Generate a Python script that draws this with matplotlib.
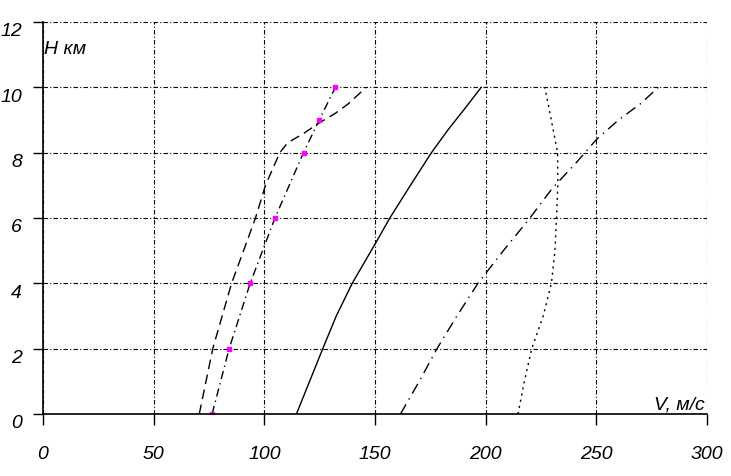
import matplotlib
matplotlib.use("Agg")
import matplotlib.pyplot as plt
import matplotlib.transforms as mtransforms

# speed profiles V(H)
h_dash = [0, 2, 4, 6, 7, 8, 8.3, 8.6, 8.9, 9.2, 9.5, 10]
v_dash = [70.6, 76.7, 85.2, 96.0, 100.5, 107.0, 110.5, 118.0, 124.5, 132.0, 138.0, 146.0]

h_mark = [0, 2, 4, 6, 8, 9, 10]
v_mark = [76.4, 84.1, 93.6, 104.8, 117.7, 124.8, 132.1]

h_solid = [0, 2, 3, 4, 5.2, 6, 7, 8, 8.7, 9.3, 10]
v_solid = [114.5, 126.4, 132.5, 139.7, 150.0, 156.7, 166.0, 175.5, 183.0, 190.0, 198.0]

h_dd = [0, 1, 2, 3, 4, 5, 6, 6.9, 7.7, 8.4, 9, 9.5, 10]
v_dd = [161.5, 170.0, 178.0, 187.0, 196.5, 208.0, 220.0, 230.0, 241.0, 250.0, 260.0, 270.0, 278.0]

h_dot = [0, 1, 2, 3, 4, 5, 6, 7, 8, 8.7, 9.4, 10]
v_dot = [214.6, 217.5, 220.8, 226.0, 229.7, 231.3, 232.0, 232.6, 232.5, 230.5, 228.5, 226.7]

x_ticks = [0, 50, 100, 150, 200, 250, 300]
y_ticks = [0, 2, 4, 6, 8, 10, 12]

font = dict(family="Liberation Sans", style="italic", size=14)

fig = plt.figure(figsize=(7.31, 4.77), dpi=100)
ax = fig.add_axes([43 / 731, 62 / 477, 664 / 731, 392 / 477])

ax.plot(v_dash, h_dash, color="black", lw=1.0, ls=(0, (7, 4)))
ax.plot(v_mark, h_mark, color="black", lw=1.0, ls=(0, (6, 3, 1, 3)),
        marker="s", ms=2.5, mfc="#ff00ff", mec="#ff00ff")
ax.plot(v_solid, h_solid, color="black", lw=1.0)
ax.plot(v_dd, h_dd, color="black", lw=1.0, ls=(0, (8, 4, 1, 4)))
ax.plot(v_dot, h_dot, color="black", lw=1.0, ls=(0, (1.5, 3)))

ax.set_xlim(0, 300)
ax.set_ylim(0, 12)
ax.set_xticks(x_ticks)
ax.set_yticks(y_ticks)
ax.set_xticklabels([str(t) for t in x_ticks], fontdict=font)
ax.set_yticklabels([str(t) for t in y_ticks], fontdict=font)
ax.tick_params(axis="x", direction="out", length=8, width=1, pad=14)
ax.tick_params(axis="y", direction="out", length=7, width=1, pad=8)
# y labels sit a little below their grid lines in the original
shift = mtransforms.ScaledTranslation(0, -5 / 72, fig.dpi_scale_trans)
for lab in ax.get_yticklabels():
    lab.set_verticalalignment("center_baseline")
    lab.set_transform(lab.get_transform() + shift)

ax.grid(True, color="black", lw=0.8, ls=(0, (4, 2, 1, 2)))
ax.set_axisbelow(True)
for s in ["top", "right"]:
    ax.spines[s].set_visible(False)
for s in ["left", "bottom"]:
    ax.spines[s].set_linewidth(1.2)

ax.text(0.5, 11.2, "H км", fontdict=font, ha="left", va="center")
ax.text(276, 0.05, "V, м/с", fontdict=font, ha="left", va="bottom")

fig.savefig("out.png", dpi=100)
